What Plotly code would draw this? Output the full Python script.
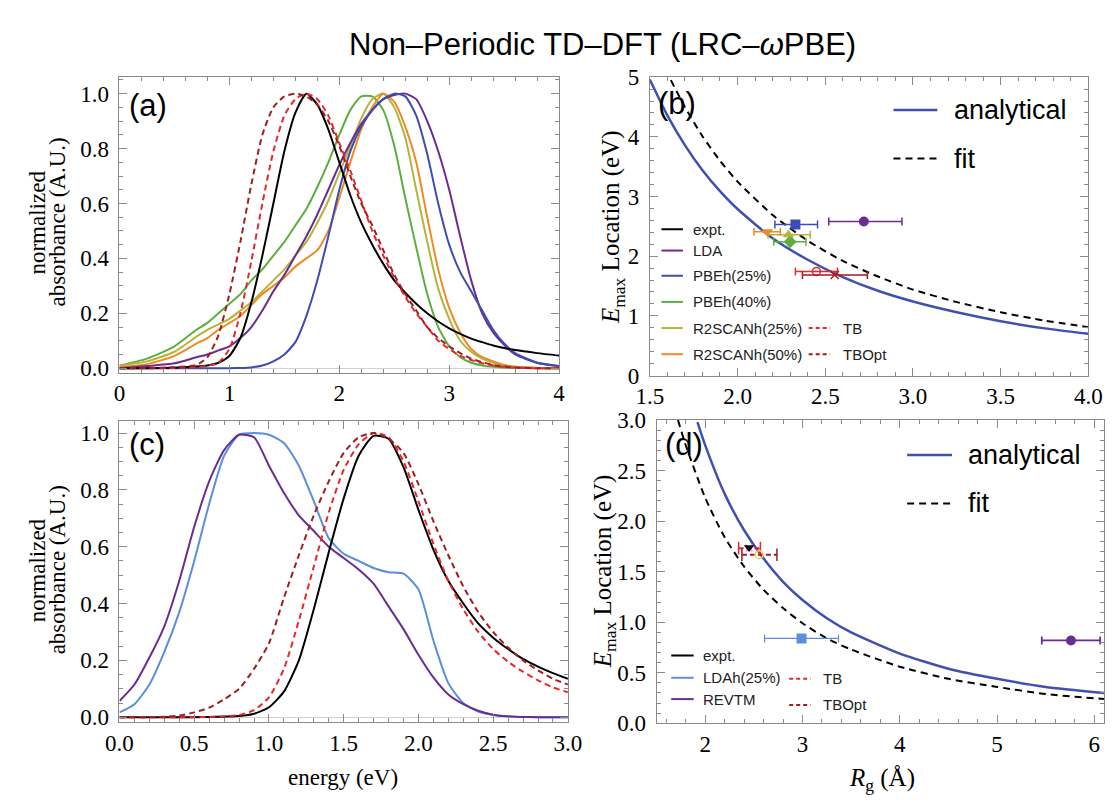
import plotly.graph_objects as go

# page is 1120x808; the html body has an 8px margin, so the figure is 1112x800 shifted by 8px
PAGE_OFF = 8
W, H = 1120 - PAGE_OFF, 808 - PAGE_OFF
def px(x): return (x - PAGE_OFF) / W
def py(y): return 1 - (y - PAGE_OFF) / H

# ---------------- Panel (a) spectra ----------------
energy_a = [0.0, 0.25, 0.5, 0.7, 0.8, 0.9, 1.0, 1.1, 1.2, 1.3, 1.4, 1.5, 1.6, 1.7, 1.8, 1.9,
            2.0, 2.1, 2.2, 2.3, 2.4, 2.5, 2.6, 2.7, 2.8, 2.9, 3.0, 3.1, 3.2, 3.3, 3.4, 3.5, 3.6, 3.8, 4.0]
expt_a = [0, 0, 0.002, 0.006, 0.01, 0.02, 0.045, 0.11, 0.24, 0.41, 0.6, 0.79, 0.93, 1.0, 0.96, 0.87,
          0.75, 0.63, 0.53, 0.45, 0.38, 0.32, 0.275, 0.235, 0.2, 0.17, 0.145, 0.125, 0.108, 0.095, 0.083, 0.074, 0.066, 0.055, 0.046]
lda_a = [0, 0.008, 0.018, 0.04, 0.05, 0.065, 0.08, 0.11, 0.15, 0.21, 0.28, 0.34, 0.41, 0.48, 0.56, 0.65,
         0.74, 0.82, 0.89, 0.94, 0.98, 0.995, 1.0, 0.98, 0.9, 0.79, 0.65, 0.48, 0.32, 0.2, 0.13, 0.085, 0.05, 0.02, 0.008]
pbeh25_a = [0, 0, 0, 0, 0, 0, 0, 0.001, 0.003, 0.01, 0.025, 0.05, 0.095, 0.19, 0.32, 0.48,
            0.65, 0.79, 0.88, 0.94, 0.98, 1.0, 0.99, 0.92, 0.78, 0.6, 0.45, 0.35, 0.28, 0.21, 0.14, 0.09, 0.055, 0.02, 0.007]
pbeh40_a = [0.01, 0.035, 0.08, 0.14, 0.165, 0.2, 0.235, 0.27, 0.32, 0.36, 0.41, 0.46, 0.52, 0.58, 0.66, 0.75,
            0.85, 0.94, 0.99, 0.99, 0.94, 0.81, 0.62, 0.44, 0.27, 0.15, 0.08, 0.04, 0.02, 0.01, 0.005, 0.002, 0.001, 0, 0]
r2scan25_a = [0.01, 0.025, 0.06, 0.115, 0.14, 0.16, 0.18, 0.21, 0.24, 0.28, 0.32, 0.36, 0.41, 0.46, 0.53, 0.61,
              0.71, 0.81, 0.91, 0.98, 1.0, 0.95, 0.84, 0.65, 0.46, 0.29, 0.18, 0.1, 0.06, 0.035, 0.02, 0.01, 0.005, 0.001, 0]
r2scan50_a = [0.005, 0.015, 0.045, 0.09, 0.11, 0.14, 0.165, 0.19, 0.23, 0.27, 0.3, 0.33, 0.37, 0.4, 0.43, 0.5,
              0.62, 0.75, 0.87, 0.95, 1.0, 0.97, 0.88, 0.75, 0.55, 0.36, 0.22, 0.13, 0.07, 0.04, 0.025, 0.012, 0.005, 0.001, 0]
tb_a = [0, 0, 0.001, 0.004, 0.009, 0.02, 0.07, 0.2, 0.39, 0.6, 0.79, 0.92, 0.98, 1.0, 0.98, 0.92,
        0.82, 0.72, 0.61, 0.5, 0.41, 0.33, 0.26, 0.2, 0.15, 0.1, 0.07, 0.045, 0.03, 0.018, 0.01, 0.005, 0.002, 0, 0]
tbopt_a = [0, 0.001, 0.004, 0.012, 0.04, 0.12, 0.27, 0.46, 0.67, 0.85, 0.95, 0.99, 1.0, 0.99, 0.96, 0.9,
           0.81, 0.7, 0.6, 0.52, 0.43, 0.34, 0.27, 0.21, 0.15, 0.11, 0.08, 0.055, 0.035, 0.022, 0.012, 0.006, 0.003, 0, 0]

# ---------------- Panel (c) spectra ----------------
energy_c = [0.0, 0.1, 0.2, 0.3, 0.4, 0.5, 0.6, 0.7, 0.8, 0.9, 1.0, 1.1, 1.2, 1.3, 1.4, 1.5,
            1.6, 1.7, 1.8, 1.9, 2.0, 2.1, 2.2, 2.3, 2.4, 2.5, 2.6, 2.7, 2.8, 2.9, 3.0]
expt_c = [0, 0, 0, 0, 0, 0, 0.001, 0.002, 0.004, 0.012, 0.035, 0.09, 0.2, 0.38, 0.58, 0.77,
          0.92, 0.99, 0.98, 0.88, 0.73, 0.59, 0.48, 0.4, 0.33, 0.28, 0.24, 0.205, 0.178, 0.155, 0.135]
ldah25_c = [0.017, 0.046, 0.115, 0.23, 0.37, 0.55, 0.75, 0.92, 0.994, 1.0, 0.994, 0.965, 0.885, 0.76, 0.63, 0.575,
            0.55, 0.525, 0.51, 0.505, 0.45, 0.27, 0.12, 0.05, 0.02, 0.008, 0.003, 0.001, 0, 0, 0]
revtm_c = [0.057, 0.115, 0.21, 0.32, 0.48, 0.67, 0.83, 0.94, 0.994, 0.985, 0.885, 0.79, 0.71, 0.655, 0.6, 0.56,
           0.52, 0.47, 0.39, 0.31, 0.22, 0.14, 0.08, 0.046, 0.023, 0.009, 0.003, 0.001, 0, 0, 0]
tb_c = [0, 0, 0, 0, 0, 0, 0.001, 0.003, 0.008, 0.025, 0.07, 0.17, 0.34, 0.53, 0.72, 0.87,
        0.96, 1.0, 0.985, 0.9, 0.76, 0.61, 0.48, 0.38, 0.3, 0.24, 0.195, 0.16, 0.13, 0.105, 0.088]
tbopt_c = [0, 0, 0, 0.002, 0.006, 0.017, 0.034, 0.063, 0.1, 0.17, 0.26, 0.42, 0.57, 0.71, 0.83, 0.93,
           0.985, 1.0, 0.98, 0.93, 0.82, 0.69, 0.57, 0.46, 0.37, 0.3, 0.245, 0.2, 0.165, 0.135, 0.115]

# ---------------- Panel (b) ----------------
rg_b_analytic = [1.5, 1.6, 1.7, 1.8, 1.9, 2.0, 2.2, 2.4, 2.6, 2.8, 3.0, 3.25, 3.5, 3.75, 4.0]
e_b_analytic = [4.96, 4.36, 3.86, 3.44, 3.09, 2.79, 2.30, 1.94, 1.65, 1.42, 1.24, 1.06, 0.91, 0.79, 0.70]
rg_b_fit = [1.62, 1.7, 1.8, 1.9, 2.0, 2.2, 2.4, 2.6, 2.8, 3.0, 3.25, 3.5, 3.75, 4.0]
e_b_fit = [4.95, 4.50, 4.01, 3.60, 3.25, 2.69, 2.26, 1.92, 1.66, 1.44, 1.23, 1.06, 0.92, 0.81]

methods_b = ["LDA", "PBEh(25%)", "PBEh(40%)", "R2SCANh(25%)", "R2SCANh(50%)"]
rg_b = [2.72, 2.33, 2.30, 2.29, 2.17]
emax_b = [2.58, 2.53, 2.24, 2.36, 2.41]
rg_lo_b = [2.52, 2.213, 2.206, 2.174, 2.094]
rg_hi_b = [2.937, 2.456, 2.39, 2.415, 2.244]
symbols_b = ["circle", "square", "diamond", "triangle-up", "triangle-down"]

tb_methods = ["TB", "TBOpt"]
rg_tb_b = [2.45, 2.554]
emax_tb_b = [1.745, 1.685]
rg_tb_lo_b = [2.33, 2.37]
rg_tb_hi_b = [2.57, 2.74]

# ---------------- Panel (d) ----------------
rg_d_analytic = [1.92, 2.0, 2.2, 2.4, 2.6, 2.8, 3.0, 3.25, 3.5, 4.0, 4.5, 5.0, 5.5, 6.1]
e_d_analytic = [2.98, 2.75, 2.27, 1.91, 1.63, 1.40, 1.22, 1.04, 0.90, 0.69, 0.54, 0.44, 0.36, 0.30]
rg_d_fit = [1.72, 1.8, 2.0, 2.2, 2.4, 2.6, 2.8, 3.0, 3.25, 3.5, 4.0, 4.5, 5.0, 5.5, 6.1]
e_d_fit = [3.0, 2.75, 2.23, 1.84, 1.55, 1.32, 1.14, 0.99, 0.84, 0.73, 0.56, 0.44, 0.36, 0.29, 0.24]

methods_d = ["LDAh(25%)", "REVTM"]
rg_d = [2.99, 5.76]
emax_d = [0.84, 0.82]
rg_lo_d = [2.61, 5.46]
rg_hi_d = [3.37, 6.06]
expt_d = (2.45, 1.74)
rg_tb_d = [2.45, 2.553]
emax_tb_d = [1.733, 1.668]
rg_tb_lo_d = [2.343, 2.377]
rg_tb_hi_d = [2.567, 2.737]

# ---------------- colours ----------------
C = {
    "expt.": "#000000",
    "LDA": "#6A2C91",
    "PBEh(25%)": "#3D4DB3",
    "PBEh(40%)": "#5CAF3F",
    "R2SCANh(25%)": "#B3B43A",
    "R2SCANh(50%)": "#EE8A24",
    "TB": "#E8262B",
    "TBOpt": "#A01E1E",
    "LDAh(25%)": "#5B8EDB",
    "REVTM": "#6A2C91",
    "analytical": "#4050B0",
}
DASH_RED = "6px,4px"
DASH_FIT = "7px,5px"

fig = go.Figure()

def line(x, y, color, xa, ya, dash=None, width=2):
    fig.add_trace(go.Scatter(x=x, y=y, mode="lines", xaxis=xa, yaxis=ya, showlegend=False,
                             line=dict(color=color, width=width, dash=dash, shape="spline", smoothing=0.6),
                             hoverinfo="skip"))

# panel a
line(energy_a, pbeh40_a, C["PBEh(40%)"], "x", "y")
line(energy_a, r2scan25_a, C["R2SCANh(25%)"], "x", "y")
line(energy_a, r2scan50_a, C["R2SCANh(50%)"], "x", "y")
line(energy_a, lda_a, C["LDA"], "x", "y")
line(energy_a, pbeh25_a, C["PBEh(25%)"], "x", "y")
line(energy_a, expt_a, C["expt."], "x", "y")
line(energy_a, tb_a, C["TB"], "x", "y", dash=DASH_RED)
line(energy_a, tbopt_a, C["TBOpt"], "x", "y", dash=DASH_RED)

# panel c
line(energy_c, ldah25_c, C["LDAh(25%)"], "x3", "y3")
line(energy_c, revtm_c, C["REVTM"], "x3", "y3")
line(energy_c, expt_c, C["expt."], "x3", "y3")
line(energy_c, tb_c, C["TB"], "x3", "y3", dash=DASH_RED)
line(energy_c, tbopt_c, C["TBOpt"], "x3", "y3", dash=DASH_RED)

# panel b curves
line(rg_b_analytic, e_b_analytic, C["analytical"], "x2", "y2", width=2.5)
line(rg_b_fit, e_b_fit, "#000000", "x2", "y2", dash=DASH_FIT, width=2)

# panel b points
for m, x, y, lo, hi, s in zip(methods_b, rg_b, emax_b, rg_lo_b, rg_hi_b, symbols_b):
    fig.add_trace(go.Scatter(x=[x], y=[y], mode="markers", xaxis="x2", yaxis="y2", showlegend=False,
                             marker=dict(symbol=s, size=10, color=C[m]),
                             error_x=dict(type="data", symmetric=False, array=[hi - x], arrayminus=[x - lo],
                                          color=C[m], thickness=1.5, width=4)))
tb_syms_b = ["circle-open", "x-thin-open"]
for m, x, y, lo, hi, s in zip(tb_methods, rg_tb_b, emax_tb_b, rg_tb_lo_b, rg_tb_hi_b, tb_syms_b):
    fig.add_trace(go.Scatter(x=[x], y=[y], mode="markers", xaxis="x2", yaxis="y2", showlegend=False,
                             marker=dict(symbol=s, size=8, color=C[m], line=dict(color=C[m], width=1.5)),
                             error_x=dict(type="data", symmetric=False, array=[hi - x], arrayminus=[x - lo],
                                          color=C[m], thickness=1.5, width=4)))

# panel d curves
line(rg_d_analytic, e_d_analytic, C["analytical"], "x4", "y4", width=2.5)
line(rg_d_fit, e_d_fit, "#000000", "x4", "y4", dash=DASH_FIT, width=2)

for m, x, y, lo, hi, s in zip(methods_d, rg_d, emax_d, rg_lo_d, rg_hi_d, ["square", "circle"]):
    fig.add_trace(go.Scatter(x=[x], y=[y], mode="markers", xaxis="x4", yaxis="y4", showlegend=False,
                             marker=dict(symbol=s, size=10, color=C[m]),
                             error_x=dict(type="data", symmetric=False, array=[hi - x], arrayminus=[x - lo],
                                          color=C[m], thickness=1.8 if m == "REVTM" else 1.2, width=4)))
for m, x, y, lo, hi in zip(tb_methods, rg_tb_d, emax_tb_d, rg_tb_lo_d, rg_tb_hi_d):
    fig.add_trace(go.Scatter(x=[lo, hi], y=[y, y], mode="lines+markers", xaxis="x4", yaxis="y4", showlegend=False,
                             line=dict(color=C[m], width=2, dash="5px,3px"),
                             marker=dict(symbol="line-ns-open", size=9, line=dict(color=C[m], width=1.5))))
fig.add_trace(go.Scatter(x=[rg_tb_d[0]], y=[emax_tb_d[0]], mode="markers", xaxis="x4", yaxis="y4", showlegend=False,
                         marker=dict(symbol="x-thin-open", size=7, line=dict(color=C["TB"], width=1.5))))
fig.add_trace(go.Scatter(x=[rg_tb_d[1]], y=[emax_tb_d[1]], mode="markers", xaxis="x4", yaxis="y4", showlegend=False,
                         marker=dict(symbol="circle-open", size=8, line=dict(color=C["TBOpt"], width=1.5))))
fig.add_trace(go.Scatter(x=[expt_d[0]], y=[expt_d[1]], mode="markers", xaxis="x4", yaxis="y4", showlegend=False,
                         marker=dict(symbol="triangle-down", size=9, color="#000000")))

# ---------------- axes ----------------
FRAME = "#8a8a8a"
SERIF = "Liberation Serif, Times New Roman, serif"
SANS = "Liberation Sans, Arial, sans-serif"
def ax(domain, rng, dtick, minor, fmt, anchor, standoff, zero=False):
    return dict(domain=domain, range=rng, dtick=dtick, tick0=0, tickformat=fmt, anchor=anchor,
                showline=True, linecolor=FRAME, linewidth=1, mirror="allticks",
                ticks="inside", ticklen=8, tickwidth=1, tickcolor=FRAME,
                minor=dict(ticks="inside", ticklen=4, tickwidth=1, tickcolor=FRAME, dtick=minor, tick0=0, showgrid=False),
                showgrid=False, zeroline=zero, zerolinecolor="#cfcfcf", zerolinewidth=1,
                tickfont=dict(family=SERIF, size=23, color="black"),
                ticklabelstandoff=standoff)

fig.update_layout(
    width=W, height=H, margin=dict(l=0, r=0, t=0, b=0),
    font=dict(family=SERIF, size=22, color="black"),
    paper_bgcolor="white", plot_bgcolor="white",
    xaxis=ax([px(108), px(559)], [0, 4], 1, 0.2, "d", "y", 0),
    yaxis=ax([py(372), py(67)], [-0.016, 1.06], 0.2, 0.05, ".1f", "x", 5, zero=True),
    xaxis2=ax([px(652), px(1102)], [1.5, 4.0], 0.5, 0.1, ".1f", "y2", 0),
    yaxis2=ax([py(375), py(67)], [0, 5], 1, 0.2, "d", "x2", 5),
    xaxis3=ax([px(108), px(568)], [0, 3], 0.5, 0.1, ".1f", "y3", 0),
    yaxis3=ax([py(733), py(422)], [-0.018, 1.042], 0.2, 0.05, ".1f", "x3", 5, zero=True),
    xaxis4=ax([px(659), px(1118)], [1.5, 6.1], 1, 0.2, "d", "y4", 0),
    yaxis4=ax([py(734), py(421)], [0, 3.0], 0.5, 0.1, ".1f", "x4", 5),
)

ann = []
shapes = []
def text(x, y, t, size, family=SANS, xanchor="left", angle=0, color="black"):
    ann.append(dict(x=px(x), y=py(y), xref="paper", yref="paper", text=t, showarrow=False,
                    xanchor=xanchor, yanchor="middle", textangle=angle,
                    font=dict(family=family, size=size, color=color)))
def seg(x0, x1, y, color, dash=None, width=2):
    shapes.append(dict(type="line", xref="paper", yref="paper", x0=px(x0), x1=px(x1), y0=py(y), y1=py(y),
                       line=dict(color=color, width=width, dash=dash)))

# title
text(603, 33, "Non–Periodic TD–DFT (LRC–<i>ω</i>PBE)", 31, xanchor="center")
# panel labels
text(116, 96, "(a)", 31)
text(658, 94, "(b)", 31)
text(116, 446, "(c)", 31)
text(666, 446, "(d)", 31)
# axis titles
for yc in (217, 576):
    text(23.5, yc, "normalized", 23, family=SERIF, xanchor="center", angle=-90)
    text(44, yc, "absorbance (A.U.)", 23, family=SERIF, xanchor="center", angle=-90)
text(337, 790, "energy (eV)", 23, family=SERIF, xanchor="center")
text(890, 792, "<i>R</i><sub>g</sub> (Å)", 25, family=SERIF, xanchor="center")
text(614, 222, "<i>E</i><sub>max</sub> Location (eV)", 25, family=SERIF, xanchor="center", angle=-90)
text(605, 577, "<i>E</i><sub>max</sub> Location (eV)", 25, family=SERIF, xanchor="center", angle=-90)

# big legends
for (lx0, lx1, tx, y1, y2) in [(902, 947, 962, 101, 151), (916, 962, 976, 457, 507)]:
    seg(lx0, lx1, y1, C["analytical"], width=2.5)
    text(tx, y1, "analytical", 27)
    seg(lx0, lx1, y2, "#000000", dash="7px,5px", width=2)
    text(tx, y2, "fit", 27)

# small legend (b)
rows_b = [224, 246, 272, 299, 326, 353]
for name, yy in zip(["expt.", "LDA", "PBEh(25%)", "PBEh(40%)", "R2SCANh(25%)", "R2SCANh(50%)"], rows_b):
    seg(664, 686, yy, C[name])
    text(694, yy, name, 15, color="#222222")
for name, yy in zip(tb_methods, rows_b[4:]):
    seg(815, 837, yy, C[name], dash="4px,3px")
    text(848, yy, name, 15, color="#222222")

# small legend (d)
rows_d = [664, 687, 709]
for name, yy in zip(["expt.", "LDAh(25%)", "REVTM"], rows_d):
    seg(674, 697, yy, C[name])
    text(705, yy, name, 15, color="#222222")
for name, yy in zip(tb_methods, [688, 715]):
    seg(795, 817, yy, C[name], dash="4px,3px")
    text(828, yy, name, 15, color="#222222")

fig.update_layout(annotations=ann, shapes=shapes)
fig.write_html("out.html")
